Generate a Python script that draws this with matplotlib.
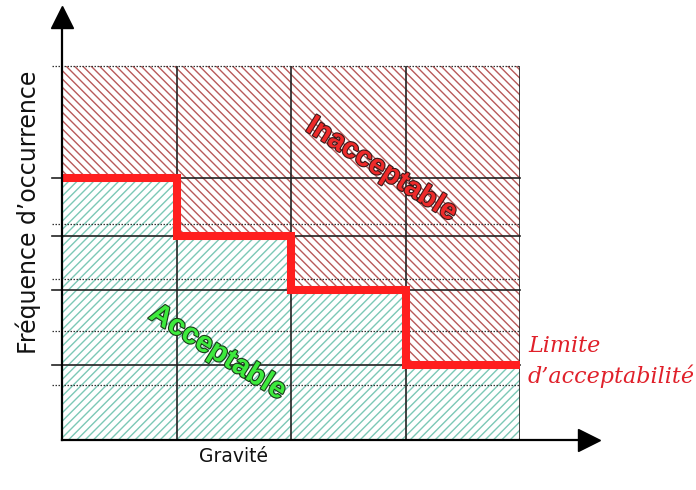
import matplotlib

matplotlib.use("Agg")
import matplotlib.pyplot as plt
import matplotlib.patheffects as pe
import numpy as np

# gravity classes (column edges) and acceptability limit per class
gravity_edges = [0, 1, 2, 3, 4]
limit_levels = [7.0, 5.45, 4.0, 2.0]
# frequency levels: solid grid lines and dotted sub-levels
freq_major = [2.0, 4.0, 5.45, 7.0]
freq_minor = [1.47, 2.91, 4.30, 5.78, 10.0]
freq_top = 10.0

RED_HATCH = "#b85a5a"
TEAL_HATCH = "#7cc8b6"
STEP_RED = "#ff1e1e"

plt.rcParams["hatch.linewidth"] = 1.0

fig = plt.figure(figsize=(6.96, 4.9), dpi=100)
ax = fig.add_axes([62 / 696, 50 / 490, 458 / 696, 374 / 490])
ax.set_xlim(gravity_edges[0], gravity_edges[-1])
ax.set_ylim(0, freq_top)
ax.axis("off")

# hatched zones, split by the step limit
xs = np.array(gravity_edges, dtype=float)
ys = np.array(limit_levels + [limit_levels[-1]])
ax.fill_between(xs, ys, freq_top, step="post", facecolor="white",
                edgecolor=RED_HATCH, hatch="\\" * 4, linewidth=0, zorder=1)
ax.fill_between(xs, 0, ys, step="post", facecolor="white",
                edgecolor=TEAL_HATCH, hatch="/" * 4, linewidth=0, zorder=1)

# grid
for x in gravity_edges[1:]:
    ax.plot([x, x], [0, freq_top], color="#222222", lw=1.2, zorder=2)
for y in freq_major:
    ax.plot([-0.09, gravity_edges[-1]], [y, y], color="#222222", lw=1.2,
            zorder=2, clip_on=False)
for y in freq_minor:
    ax.plot([-0.09, gravity_edges[-1]], [y, y], color="#333333", lw=0.9,
            ls=(0, (1.2, 1.2)), zorder=2, clip_on=False)

# limit line
ax.step(xs, ys, where="post", color=STEP_RED, lw=5.8, zorder=3,
        solid_joinstyle="miter", solid_capstyle="butt")

# axes with arrows
ax.plot([0, 0], [0, 10.95], color="black", lw=1.6, zorder=4, clip_on=False)
ax.plot([0, 4.55], [0, 0], color="black", lw=1.6, zorder=4, clip_on=False)
ax.plot(0, 11.3, marker="^", ms=16, color="black", clip_on=False, zorder=5)
ax.plot(4.6, 0, marker=">", ms=16, color="black", clip_on=False, zorder=5)

# zone labels
label_font = ["Liberation Sans", "DejaVu Sans"]
ax.text(2.79, 7.22, "Inacceptable", rotation=-32, ha="center", va="center",
        fontsize=20.5, fontweight="bold", color="#ee2a2a", family=label_font,
        path_effects=[pe.Stroke(linewidth=1.6, foreground="#3a1a1a"), pe.Normal()],
        zorder=6)
ax.text(1.36, 2.35, "Acceptable", rotation=-32, ha="center", va="center",
        fontsize=21, fontweight="bold", color="#3dea3d", family=label_font,
        path_effects=[pe.Stroke(linewidth=1.6, foreground="#1a3a1a"), pe.Normal()],
        zorder=6)

ax.text(4.07, 2.1, "Limite\nd\u2019acceptabilit\u00e9", ha="left", va="center",
        fontsize=16, style="italic", color="#e0202a",
        family=["DejaVu Serif"], linespacing=1.4, clip_on=False)

fig.text(28 / 696, 1 - 212 / 490, "Fr\u00e9quence d\u2019occurrence", rotation=90,
         ha="center", va="center", fontsize=17, color="#111111")
fig.text(234 / 696, 1 - 456 / 490, "Gravit\u00e9", ha="center", va="center",
         fontsize=13.5, color="#111111")

fig.savefig("out.png", dpi=100)
